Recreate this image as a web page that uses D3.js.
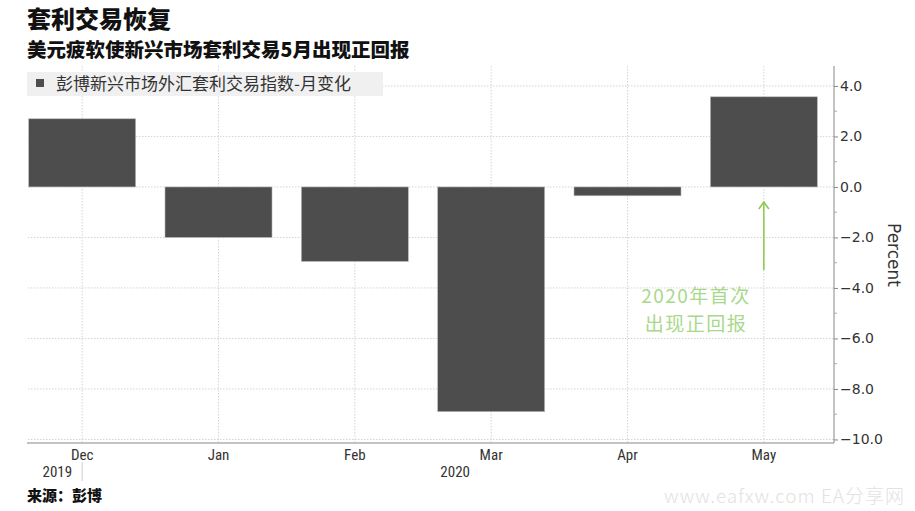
<!DOCTYPE html>
<html><head><meta charset="utf-8">
<script src="https://cdn.jsdelivr.net/npm/d3@7/dist/d3.min.js"></script>
<style>body{margin:0;background:#fff}svg{display:block}</style>
</head><body>
<script>
const months = ["Dec","Jan","Feb","Mar","Apr","May"];
const values = [2.7, -2.0, -2.95, -8.9, -0.35, 3.57];
const yTicks = [4, 2, 0, -2, -4, -6, -8, -10];
const yMinorTicks = [3, 1, -1, -3, -5, -7, -9];
const years = [{label:"2019", month:"Dec"}, {label:"2020", month:"Mar"}];
const noteLines = ["2020年首次", "出现正回报"];

const W = 915, H = 511;
const svg = d3.select("body").append("svg").attr("width", W).attr("height", H);

const plot = {left: 14, right: 834, top: 66, bottom: 443};
const x = d3.scaleBand().domain(months).range([plot.left, plot.right - 2]).paddingInner(0.215).paddingOuter(0.1075);
const y = d3.scaleLinear().domain([-10.14, 4.79]).range([plot.bottom, plot.top]);

const cjk = "'Noto Sans CJK SC', 'Noto Sans', sans-serif";
const narrow = "'Liberation Sans Narrow', 'Roboto Condensed', 'DejaVu Sans Condensed', sans-serif";

// title
svg.append("text").attr("x", 27).attr("y", 28).text("套利交易恢复")
  .attr("font-family", cjk).attr("font-weight", 900).attr("font-size", 24).attr("fill", "#111");
svg.append("text").attr("x", 27).attr("y", 57).text("美元疲软使新兴市场套利交易5月出现正回报")
  .attr("font-family", cjk).attr("font-weight", 900).attr("font-size", 19.5).attr("fill", "#111");

// gridlines
const grid = svg.append("g");
grid.selectAll("line.h").data(yTicks).join("line")
  .attr("x1", 28).attr("x2", plot.right).attr("y1", d => y(d)).attr("y2", d => y(d))
  .attr("stroke", "#d4d4d4").attr("stroke-dasharray", "1.5,1.5");
grid.selectAll("line.v").data(months).join("line")
  .attr("x1", d => x(d) + x.bandwidth()/2).attr("x2", d => x(d) + x.bandwidth()/2)
  .attr("y1", plot.top).attr("y2", plot.bottom)
  .attr("stroke", "#d4d4d4").attr("stroke-dasharray", "1.5,1.5");

// bars
svg.append("g").selectAll("rect").data(months).join("rect")
  .attr("x", d => x(d)).attr("width", x.bandwidth())
  .attr("y", (d,i) => y(Math.max(0, values[i])))
  .attr("height", (d,i) => Math.abs(y(values[i]) - y(0)))
  .attr("fill", "#4d4d4d").attr("stroke", "#bbb").attr("stroke-width", 0.6);

// legend
svg.append("rect").attr("x", 27).attr("y", 72).attr("width", 356).attr("height", 24).attr("fill", "#f0f0f0");
svg.append("rect").attr("x", 36).attr("y", 79).attr("width", 8).attr("height", 8).attr("fill", "#4d4d4d");
svg.append("text").attr("x", 56).attr("y", 90).text("彭博新兴市场外汇套利交易指数-月变化")
  .attr("font-family", cjk).attr("font-size", 17).attr("fill", "#333");

// y axis
const yAxis = svg.append("g").attr("transform", `translate(${plot.right},0)`);
yAxis.append("line").attr("x1", 0).attr("x2", 0).attr("y1", plot.top).attr("y2", plot.bottom).attr("stroke", "#888");
yAxis.call(d3.axisRight(y).tickValues(yTicks).tickFormat(d3.format(".1f")).tickSize(4).tickPadding(2))
  .call(g => g.select(".domain").remove())
  .call(g => g.selectAll(".tick line").attr("stroke", "#888"))
  .call(g => g.selectAll(".tick text").attr("font-family", "'DejaVu Sans', Verdana, sans-serif").attr("font-size", 14).attr("fill", "#333"));
yAxis.selectAll("line.minor").data(yMinorTicks).join("line")
  .attr("x1", 0).attr("x2", 3).attr("y1", d => y(d)).attr("y2", d => y(d)).attr("stroke", "#aaa");
svg.append("text").attr("transform", `translate(888,255) rotate(90)`).attr("text-anchor", "middle")
  .text("Percent").attr("font-family", "'DejaVu Sans', sans-serif").attr("font-size", 17).attr("fill", "#333");

// x axis
const xAxis = svg.append("g").attr("transform", `translate(0,${plot.bottom})`);
xAxis.append("line").attr("x1", 27).attr("x2", plot.right).attr("y1", 0).attr("y2", 0).attr("stroke", "#888").attr("stroke-width", 1.2);
xAxis.call(d3.axisBottom(x).tickSize(0).tickPadding(3))
  .call(g => g.select(".domain").remove())
  .call(g => g.selectAll(".tick text").attr("font-family", narrow).attr("font-size", 15).attr("fill", "#333").attr("dy", "0.9em"));
const decC = x("Dec") + x.bandwidth()/2;
svg.append("line").attr("x1", decC).attr("x2", decC)
  .attr("y1", 462).attr("y2", 481).attr("stroke", "#ccc");
svg.append("text").attr("x", decC - 10).attr("y", 477).attr("text-anchor", "end")
  .text(years[0].label).attr("font-family", narrow).attr("font-size", 15).attr("fill", "#333");
svg.append("text").attr("x", x(years[1].month) + x.bandwidth()/2 - 36).attr("y", 477).attr("text-anchor", "middle")
  .text(years[1].label).attr("font-family", narrow).attr("font-size", 15).attr("fill", "#333");

// annotation
const ax = x("May") + x.bandwidth()/2;
svg.append("line").attr("x1", ax).attr("x2", ax).attr("y1", 270).attr("y2", 202)
  .attr("stroke", "#8cc84b").attr("stroke-width", 1.5);
svg.append("path").attr("d", `M${ax-5},${209} L${ax},${202} L${ax+5},${209}`)
  .attr("fill", "none").attr("stroke", "#8cc84b").attr("stroke-width", 1.5);
noteLines.forEach((t, i) => {
  svg.append("text").attr("x", 696).attr("y", 303 + i * 28).attr("text-anchor", "middle").text(t)
    .attr("font-family", cjk).attr("font-size", 19).attr("letter-spacing", 1.5).attr("fill", "#a8d98a");
});

// source
svg.append("text").attr("x", 27).attr("y", 501).text("来源：彭博")
  .attr("font-family", cjk).attr("font-weight", 900).attr("font-size", 15).attr("fill", "#111");
svg.append("text").attr("x", 905).attr("y", 503).attr("text-anchor", "end").text("www.eafxw.com   EA分享网")
  .attr("font-family", cjk).attr("font-weight", 300).attr("font-size", 19).attr("letter-spacing", 1).attr("fill", "#e2e2e2");
</script>
</body></html>
